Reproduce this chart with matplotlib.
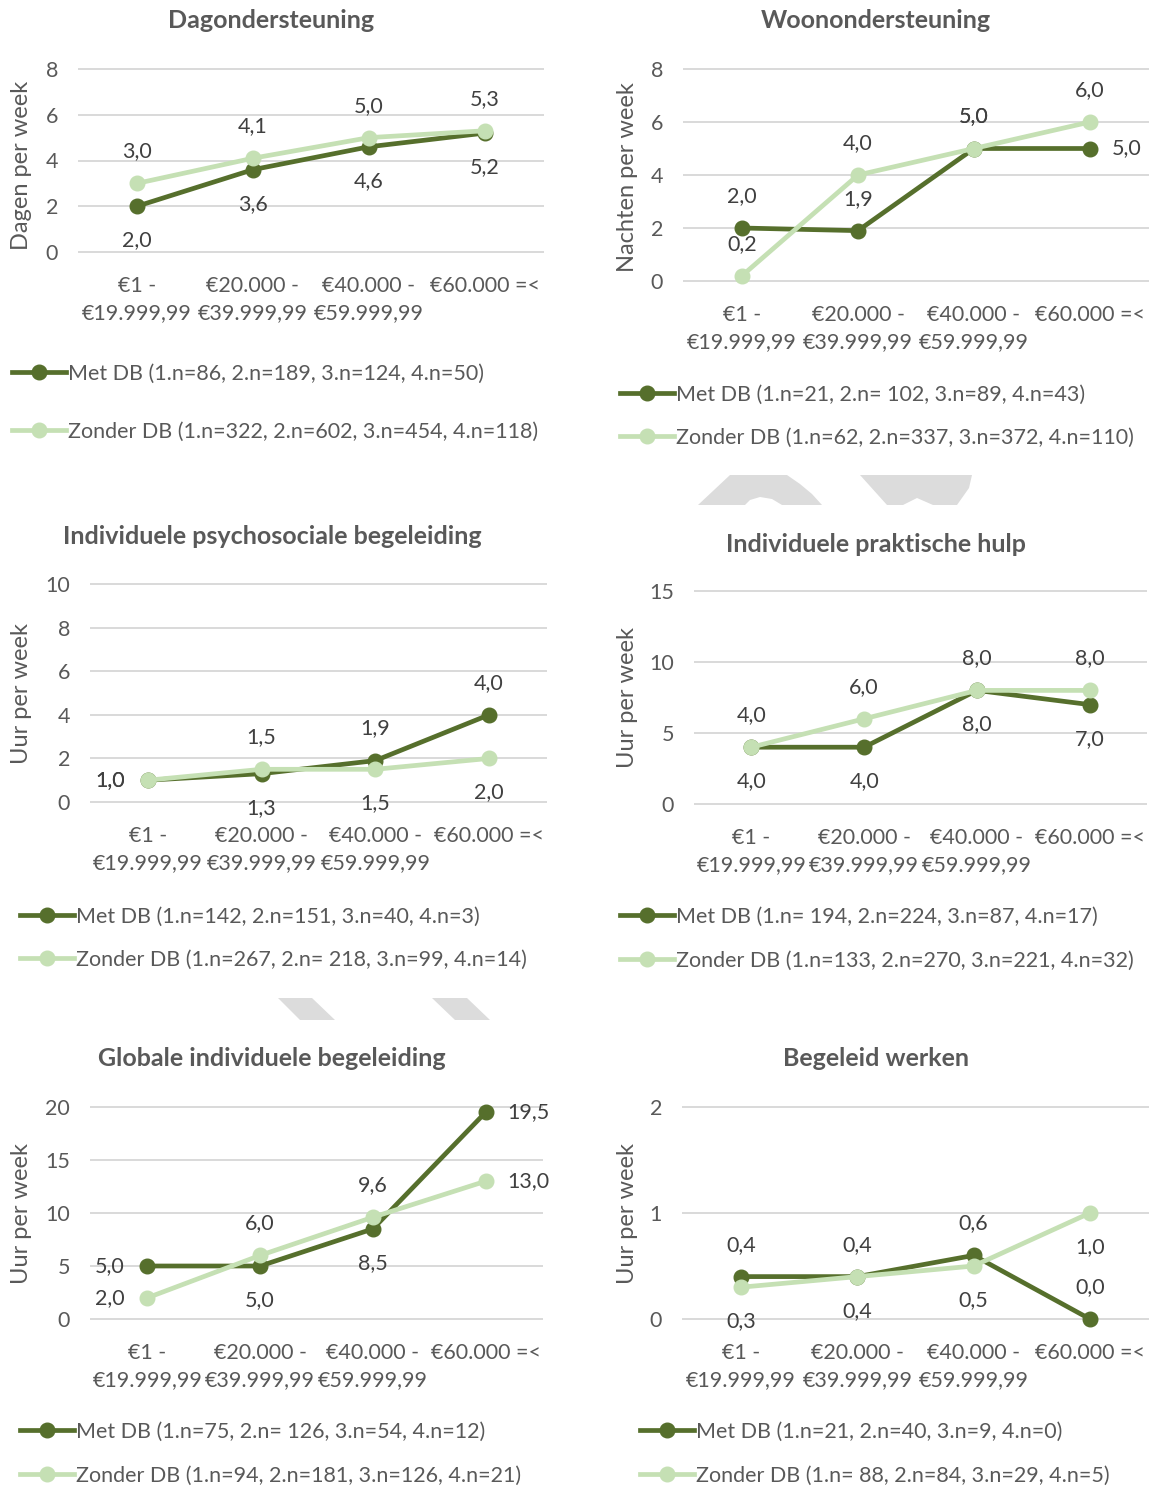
import matplotlib
matplotlib.use("Agg")
import matplotlib.pyplot as plt
from matplotlib.lines import Line2D
from matplotlib.patches import Polygon

plt.rcParams['font.family'] = ['Lato', 'DejaVu Sans']

# figure size in pixels (saved at 100 dpi)
W, H = 1153, 1488

DARK = "#566F2C"
LIGHT = "#C5E0B4"
TXT = "#595959"
LBL = "#404040"
GRID = "#D9D9D9"
FS = 15.5
LW = 3.4
MS = 10.5

# --- data ---------------------------------------------------------------
income = ["€1 -\n€19.999,99", "€20.000 -\n€39.999,99",
          "€40.000 -\n€59.999,99", "€60.000 =<"]

titles = ["Dagondersteuning", "Woonondersteuning",
          "Individuele psychosociale begeleiding", "Individuele praktische hulp",
          "Globale individuele begeleiding", "Begeleid werken"]
ylabels = ["Dagen per week", "Nachten per week", "Uur per week",
           "Uur per week", "Uur per week", "Uur per week"]

dag_met = [2.0, 3.6, 4.6, 5.2]
dag_zonder = [3.0, 4.1, 5.0, 5.3]
woon_met = [2.0, 1.9, 5.0, 5.0]
woon_zonder = [0.2, 4.0, 5.0, 6.0]
psy_met = [1.0, 1.3, 1.9, 4.0]
psy_zonder = [1.0, 1.5, 1.5, 2.0]
prak_met = [4.0, 4.0, 8.0, 7.0]
prak_zonder = [4.0, 6.0, 8.0, 8.0]
glob_met = [5.0, 5.0, 8.5, 19.5]
glob_zonder = [2.0, 6.0, 9.6, 13.0]
werk_met = [0.4, 0.4, 0.6, 0.0]
werk_zonder = [0.3, 0.4, 0.5, 1.0]

met_labels = ["Met DB (1.n=86, 2.n=189, 3.n=124, 4.n=50)",
              "Met DB (1.n=21, 2.n= 102, 3.n=89, 4.n=43)",
              "Met DB (1.n=142, 2.n=151, 3.n=40, 4.n=3)",
              "Met DB (1.n= 194, 2.n=224, 3.n=87, 4.n=17)",
              "Met DB (1.n=75, 2.n= 126, 3.n=54, 4.n=12)",
              "Met DB (1.n=21, 2.n=40, 3.n=9, 4.n=0)"]
zonder_labels = ["Zonder DB (1.n=322, 2.n=602, 3.n=454, 4.n=118)",
                 "Zonder DB (1.n=62, 2.n=337, 3.n=372, 4.n=110)",
                 "Zonder DB (1.n=267, 2.n= 218, 3.n=99, 4.n=14)",
                 "Zonder DB (1.n=133, 2.n=270, 3.n=221, 4.n=32)",
                 "Zonder DB (1.n=94, 2.n=181, 3.n=126, 4.n=21)",
                 "Zonder DB (1.n= 88, 2.n=84, 3.n=29, 4.n=5)"]

yticks = [[0, 2, 4, 6, 8], [0, 2, 4, 6, 8], [0, 2, 4, 6, 8, 10],
          [0, 5, 10, 15], [0, 5, 10, 15, 20], [0, 1, 2]]

series = [(dag_met, dag_zonder), (woon_met, woon_zonder), (psy_met, psy_zonder),
          (prak_met, prak_zonder), (glob_met, glob_zonder), (werk_met, werk_zonder)]

# --- layout (pixels, origin top-left) -------------------------------------
# plot box (left, top, right, bottom), title centre, y-label centre,
# legend (left, first row, second row), data label placement per series
layout = [
    dict(box=(79, 69, 543, 252), title=(271, 20), ylab=(22, 165),
         leg=(12, 374, 432),
         pos=(["b", "b", "b", "b"], ["a", "a", "a", "a"])),
    dict(box=(684, 69, 1148, 281), title=(876, 20), ylab=(627, 177),
         leg=(620, 395, 438),
         pos=(["a", "a", "a", "r"], ["a", "a", "a", "a"])),
    dict(box=(91, 584, 546, 802), title=(272, 536), ylab=(22, 693),
         leg=(20, 917, 960),
         pos=(["l", "b", "a", "a"], ["l", "a", "b", "b"])),
    dict(box=(695, 591, 1146, 804), title=(876, 544), ylab=(627, 697),
         leg=(620, 917, 961),
         pos=(["b", "b", "b", "b"], ["a", "a", "a", "a"])),
    dict(box=(91, 1107, 542, 1319), title=(272, 1058), ylab=(22, 1213),
         leg=(20, 1432, 1476),
         pos=(["l", "b", "b", "r"], ["l", "a", "a", "r"])),
    dict(box=(683, 1107, 1148, 1319), title=(876, 1058), ylab=(627, 1213),
         leg=(640, 1432, 1476),
         pos=(["a", "a", "a", "a"], ["b", "b", "b", "b"])),
]

OFFSETS = {"a": ((0, 32), "center", "center"),
           "b": ((0, -34), "center", "center"),
           "r": ((22, 0), "left", "center"),
           "l": ((-23, 0), "right", "center")}


def fx(x):
    return x / W


def fy(y):
    return 1 - y / H


fig = plt.figure(figsize=(W / 100, H / 100), dpi=100)

# light grey logo fragments in the background
shapes = [
    [(698, 505), (730, 475), (787, 475), (800, 484), (812, 494), (822, 505),
     (782, 505), (772, 499), (760, 497), (750, 500), (745, 505)],
    [(860, 475), (972, 475), (969, 488), (957, 505), (933, 505), (917, 498),
     (903, 505), (887, 505)],
    [(278, 998), (312, 998), (335, 1020), (300, 1020)],
    [(432, 998), (467, 998), (490, 1020), (455, 1020)],
]
for pts in shapes:
    fig.add_artist(Polygon([(fx(x), fy(y)) for x, y in pts], closed=True,
                           transform=fig.transFigure, facecolor="#DCDCDC",
                           edgecolor="none", zorder=0))

x = list(range(len(income)))
fs_px = FS * 100 / 72

for i, lay in enumerate(layout):
    l, t, r, b = lay["box"]
    ax = fig.add_axes([fx(l), fy(b), (r - l) / W, (b - t) / H])
    ax.patch.set_alpha(0)
    for s in ax.spines.values():
        s.set_visible(False)

    ticks = yticks[i]
    ax.set_xlim(-0.5, len(income) - 0.5)
    ax.set_ylim(ticks[0], ticks[-1])
    for v in ticks:
        ax.axhline(v, color=GRID, lw=1.4, zorder=0, clip_on=False)

    met, zonder = series[i]
    ax.plot(x, met, color=DARK, lw=LW, marker="o", ms=MS, clip_on=False,
            zorder=3, solid_capstyle="round")
    ax.plot(x, zonder, color=LIGHT, lw=LW, marker="o", ms=MS, clip_on=False,
            zorder=4, solid_capstyle="round")

    for vals, where in zip((met, zonder), lay["pos"]):
        for xi, v, p in zip(x, vals, where):
            off, ha, va = OFFSETS[p]
            ax.annotate(f"{v:.1f}".replace(".", ","), (xi, v), xytext=off,
                        textcoords="offset pixels", ha=ha, va=va,
                        fontsize=FS, color=LBL, zorder=5,
                        annotation_clip=False)

    ax.set_xticks(x)
    ax.set_xticklabels(income, linespacing=1.45)
    ax.set_yticks(ticks)
    ax.tick_params(axis="both", length=0, labelsize=FS, labelcolor=TXT)
    ax.tick_params(axis="x", pad=17)
    ax.tick_params(axis="y", pad=15)

    tx, ty = lay["title"]
    fig.text(fx(tx), fy(ty), titles[i], ha="center", va="center",
             fontsize=18, fontweight="bold", color=TXT)
    lx, ly = lay["ylab"]
    fig.text(fx(lx), fy(ly), ylabels[i], ha="center", va="center",
             rotation=90, fontsize=17, color=TXT)

    gx, g1, g2 = lay["leg"]
    handles = [Line2D([], [], color=DARK, lw=LW, marker="o", ms=MS),
               Line2D([], [], color=LIGHT, lw=LW, marker="o", ms=MS)]
    ax.legend(handles, [met_labels[i], zonder_labels[i]],
              loc="upper left",
              bbox_to_anchor=(fx(gx), fy(g1 - 0.47 * fs_px)),
              bbox_transform=fig.transFigure, frameon=False,
              fontsize=FS, labelcolor=TXT, handlelength=54 / fs_px,
              handletextpad=0.1, borderpad=0, borderaxespad=0,
              labelspacing=(g2 - g1 - 0.93 * fs_px) / fs_px)

fig.savefig("out.png", dpi=100)
